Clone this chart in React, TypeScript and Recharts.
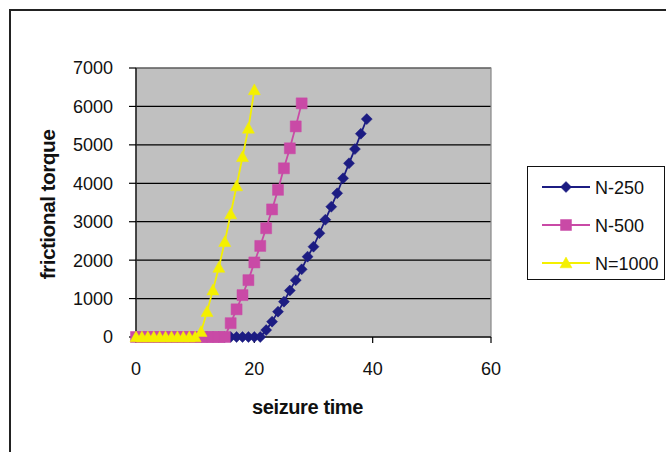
import React from "react";
import { LineChart, Line, XAxis, YAxis, CartesianGrid, Legend, ReferenceArea } from "recharts";

// ---- data ----
const seriesNames = ["N-250", "N-500", "N=1000"];

const timeN250 = [0, 1, 2, 3, 4, 5, 6, 7, 8, 9, 10, 11, 12, 13, 14, 15, 16, 17, 18, 19, 20, 21, 22, 23, 24, 25, 26, 27, 28, 29, 30, 31, 32, 33, 34, 35, 36, 37, 38, 39];
const torqueN250 = [0, 0, 0, 0, 0, 0, 0, 0, 0, 0, 0, 0, 0, 0, 0, 0, 0, 0, 0, 0, 0, 0, 180, 400, 660, 920, 1210, 1480, 1760, 2090, 2350, 2700, 3050, 3390, 3740, 4130, 4520, 4890, 5290, 5670];

const timeN500 = [0, 1, 2, 3, 4, 5, 6, 7, 8, 9, 10, 11, 12, 13, 14, 15, 16, 17, 18, 19, 20, 21, 22, 23, 24, 25, 26, 27, 28];
const torqueN500 = [0, 0, 0, 0, 0, 0, 0, 0, 0, 0, 0, 0, 0, 0, 0, 0, 360, 720, 1090, 1480, 1940, 2370, 2830, 3320, 3830, 4390, 4910, 5480, 6080];

const timeN1000 = [0, 1, 2, 3, 4, 5, 6, 7, 8, 9, 10, 11, 12, 13, 14, 15, 16, 17, 18, 19, 20];
const torqueN1000 = [0, 0, 0, 0, 0, 0, 0, 0, 0, 0, 0, 140, 660, 1220, 1810, 2480, 3200, 3930, 4690, 5430, 6430];

const xTicks = [0, 20, 40, 60];
const yTicks = [0, 1000, 2000, 3000, 4000, 5000, 6000, 7000];

const build = (xs: number[], ys: number[]) => xs.map((x, i) => ({ x, y: ys[i] }));
const dataN250 = build(timeN250, torqueN250);
const dataN500 = build(timeN500, torqueN500);
const dataN1000 = build(timeN1000, torqueN1000);

// ---- styles ----
const COLORS = ["#1c1c82", "#c94aa6", "#f4f000"];
const FONT = "'Liberation Sans', Arial, sans-serif";

type Shape = "diamond" | "square" | "triangle";
const SHAPES: Shape[] = ["diamond", "square", "triangle"];

function markerPath(shape: Shape, cx: number, cy: number): string {
  if (shape === "diamond") {
    const r = 5.5;
    return `M${cx},${cy - r}L${cx + r},${cy}L${cx},${cy + r}L${cx - r},${cy}Z`;
  }
  if (shape === "square") {
    const h = 5.5;
    return `M${cx - h},${cy - h}L${cx + h},${cy - h}L${cx + h},${cy + h}L${cx - h},${cy + h}Z`;
  }
  const h = 6;
  return `M${cx},${cy - h}L${cx + h},${cy + h * 0.8}L${cx - h},${cy + h * 0.8}Z`;
}

const makeDot = (shape: Shape, color: string) => (props: any) => {
  const { cx, cy, index } = props;
  if (cx == null || cy == null) return <g key={`e-${shape}-${index}`} />;
  return <path key={`${shape}-${index}`} d={markerPath(shape, cx, cy)} fill={color} stroke={color} strokeWidth={0.5} />;
};

const LegendBox = (props: any) => {
  const payload: any[] = props.payload || [];
  return (
    <div style={{ width: 136, height: 112, border: "1.5px solid #111", background: "#fff", boxSizing: "content-box" }}>
      <svg width={136} height={112}>
        {payload.map((p, i) => {
          const y = 20 + i * 38;
          const idx = seriesNames.indexOf(p.value);
          const color = COLORS[idx];
          return (
            <g key={p.value}>
              <line x1={14} x2={62} y1={y} y2={y} stroke={color} strokeWidth={1.8} />
              <path d={markerPath(SHAPES[idx], 38, y)} fill={color} stroke={color} strokeWidth={0.5} />
              <text x={67} y={y + 6.5} fontFamily={FONT} fontSize={18} fill="#111">
                {p.value}
              </text>
            </g>
          );
        })}
      </svg>
    </div>
  );
};

const YTitle = (props: any) => {
  const vb = props.viewBox;
  const cx = vb.x + 47;
  const cy = vb.y + vb.height / 2 + 2;
  return (
    <text x={cx} y={cy} transform={`rotate(-90 ${cx} ${cy})`} textAnchor="middle" dominantBaseline="central" fontFamily={FONT} fontSize={21} fontWeight="bold" letterSpacing={-0.6} fill="#111">
      frictional torque
    </text>
  );
};

const XTitle = (props: any) => {
  const vb = props.viewBox;
  const cx = vb.x + vb.width / 2 - 6;
  const cy = vb.y + 70;
  return (
    <text x={cx} y={cy} textAnchor="middle" dominantBaseline="central" fontFamily={FONT} fontSize={20} fontWeight="bold" letterSpacing={-0.4} fill="#111">
      seizure time
    </text>
  );
};

export default function App() {
  return (
    <div style={{ position: "absolute", left: 0, top: 0, width: 666, height: 452, overflow: "hidden", background: "#fff" }}>
      <div style={{ position: "absolute", left: 9, top: 9, width: 720, height: 520, border: "2px solid #222" }} />
      <div style={{ position: "absolute", left: 0, top: 0 }}>
        <LineChart width={666} height={452} margin={{ top: 68, right: 175, bottom: 0, left: 0 }}>
          <CartesianGrid vertical={false} horizontal={true} stroke="#000" strokeWidth={1.2} fill="#c0c0c0" fillOpacity={1} />
          <ReferenceArea x1={0} x2={60} y1={0} y2={7000} fill="none" stroke="#888" strokeWidth={1.2} ifOverflow="visible" />
          <XAxis
            type="number"
            dataKey="x"
            domain={[0, 60]}
            ticks={xTicks}
            allowDuplicatedCategory={false}
            height={115}
            axisLine={{ stroke: "#000", strokeWidth: 1.2 }}
            tickLine={{ stroke: "#000", strokeWidth: 1.2 }}
            tickSize={6}
            tickMargin={19}
            tick={{ fontFamily: FONT, fontSize: 18, fill: "#111" }}
            label={<XTitle />}
          />
          <YAxis
            type="number"
            domain={[0, 7000]}
            ticks={yTicks}
            width={136}
            axisLine={{ stroke: "#000", strokeWidth: 1.2 }}
            tickLine={{ stroke: "#000", strokeWidth: 1.2 }}
            tickSize={7}
            tickMargin={16}
            tick={{ fontFamily: FONT, fontSize: 18, fill: "#111" }}
            label={<YTitle />}
          />
          <Legend
            layout="vertical"
            align="center"
            verticalAlign="middle"
            content={<LegendBox />}
            wrapperStyle={{ left: 527, top: 166, width: 139, height: 115 }}
          />
          <Line data={dataN250} dataKey="y" name={seriesNames[0]} stroke={COLORS[0]} strokeWidth={1.8} dot={makeDot("diamond", COLORS[0])} activeDot={false} isAnimationActive={false} />
          <Line data={dataN500} dataKey="y" name={seriesNames[1]} stroke={COLORS[1]} strokeWidth={1.8} dot={makeDot("square", COLORS[1])} activeDot={false} isAnimationActive={false} />
          <Line data={dataN1000} dataKey="y" name={seriesNames[2]} stroke={COLORS[2]} strokeWidth={1.8} dot={makeDot("triangle", COLORS[2])} activeDot={false} isAnimationActive={false} />
        </LineChart>
      </div>
    </div>
  );
}
